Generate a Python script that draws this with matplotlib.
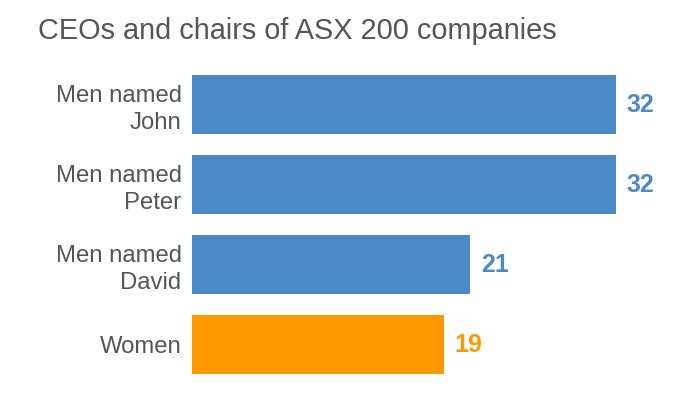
import matplotlib
matplotlib.use("Agg")
import matplotlib.pyplot as plt

plt.rcParams['font.family'] = ['Liberation Sans', 'DejaVu Sans']

categories = ["Men named\nJohn", "Men named\nPeter", "Men named\nDavid", "Women"]
counts = [32, 32, 21, 19]
colors = ["#4a8ac9", "#4a8ac9", "#4a8ac9", "#ff9900"]
title = "CEOs and chairs of ASX 200 companies"

fig = plt.figure(figsize=(7, 3.94), dpi=100)
# axes placed so that bars span pixel 192 -> 616 for value 32
px_per_unit = 13.25
xmax = 35
ax = fig.add_axes([192 / 700, (394 - 384.5) / 394, xmax * px_per_unit / 700, 320 / 394])

ypos = list(range(len(categories)))
ax.barh(ypos, counts, height=0.74, color=colors)
ax.set_xlim(0, xmax)
ax.set_ylim(3.5, -0.5)

ax.set_yticks(ypos)
ax.set_yticklabels(categories, fontsize=17.2, color="#555555", linespacing=1.3)
ax.tick_params(axis="y", length=0, pad=7.5)
ax.set_xticks([])
for s in ax.spines.values():
    s.set_visible(False)

for y, v, c in zip(ypos, counts, colors):
    ax.annotate(str(v), (v, y), xytext=(7.5, 0), textcoords="offset points",
                va="center", ha="left", fontsize=18, fontweight="bold", color=c)

fig.text(38 / 700, 1 - 31 / 394, title, fontsize=20.8, color="#555555", va="center", ha="left")

fig.savefig("out.png", dpi=100)
